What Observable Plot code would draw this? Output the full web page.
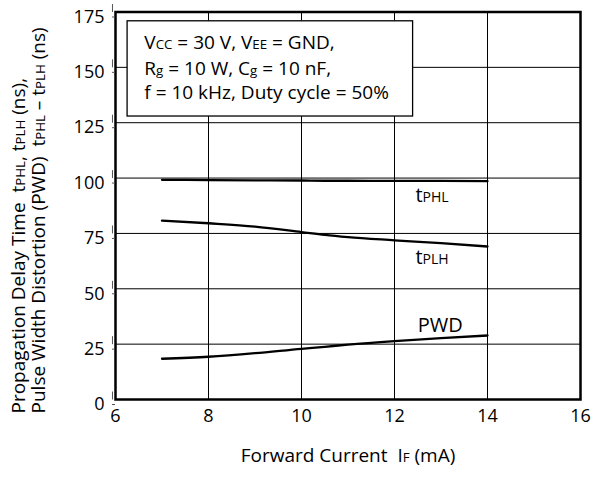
<!DOCTYPE html>
<html>
<head>
<meta charset="utf-8">
<script src="https://cdn.jsdelivr.net/npm/d3@7"></script>
<script src="https://cdn.jsdelivr.net/npm/@observablehq/plot@0.6"></script>
<style>
  html, body { margin: 0; padding: 0; background: white; }
</style>
</head>
<body>
<div id="chart"></div>
<script>
// Data
const current = [7, 8, 9, 10, 10.5, 11, 12, 13, 14];
const tPHL = [99.2, 99.1, 99.0, 98.9, 98.8, 98.8, 98.7, 98.7, 98.6];
const tPLH = [80.8, 79.6, 78.1, 75.6, 74.3, 73.3, 71.9, 70.6, 69.1];
const PWD  = [18.4, 19.3, 20.9, 22.9, 23.8, 24.8, 26.4, 27.7, 28.9];

const xTicks = [6, 8, 10, 12, 14, 16];
const yTicks = [0, 25, 50, 75, 100, 125, 150, 175];

const curveLabels = ["t{PHL}", "t{PLH}", "PWD"];
const curveLabelX = [12.45, 12.45, 12.5];
const curveLabelY = [92.1, 64.1, 33.4];

const boxLines = ["V{CC} = 30 V, V{EE} = GND,", "R{g} = 10 W, C{g} = 10 nF,", "f = 10 kHz, Duty cycle = 50%"];
const boxLineY = [161.0, 149.5, 138.4];
const boxLineX = 6.62;
const boxX = [6.26, 12.4];
const boxY = [127.8, 170.8];

const xLabel = "Forward Current  I{F} (mA)";
const yLabel1 = "Propagation Delay Time  t{PHL}, t{PLH} (ns),";
const yLabel2 = "Pulse Width Distortion (PWD)  t{PHL} – t{PLH} (ns)";

const series = [["tPHL", tPHL], ["tPLH", tPLH], ["PWD", PWD]];
const rows = series.flatMap(([name, vals]) => current.map((c, i) => ({series: name, x: c, v: vals[i]})));
const labelRows = curveLabels.map((t, i) => ({t, x: curveLabelX[i], y: curveLabelY[i]}));
const boxRows = boxLines.map((t, i) => ({t, y: boxLineY[i]}));

const chart = Plot.plot({
  width: 604,
  height: 478,
  marginLeft: 115,
  marginRight: 24,
  marginTop: 11.5,
  marginBottom: 79,
  style: {fontFamily: "'Open Sans', sans-serif", fontSize: "18px", color: "black", background: "white"},
  x: {domain: [6, 16]},
  y: {domain: [0, 175]},
  marks: [
    Plot.gridX(xTicks, {stroke: "black", strokeOpacity: 1, strokeWidth: 1}),
    Plot.gridY(yTicks, {stroke: "black", strokeOpacity: 1, strokeWidth: 1}),
    Plot.rect([0], {x1: () => boxX[0], x2: () => boxX[1], y1: () => boxY[0], y2: () => boxY[1], fill: "white", stroke: "black", strokeWidth: 1.3}),
    Plot.text(boxRows, {x: () => boxLineX, y: "y", text: "t", textAnchor: "start", fontSize: 19, fill: "black"}),
    Plot.line(rows, {x: "x", y: "v", z: "series", curve: "monotone-x", stroke: "black", strokeWidth: 2.3}),
    Plot.text(labelRows, {x: "x", y: "y", text: "t", textAnchor: "start", fontSize: 20, fill: "black"}),
    Plot.frame({stroke: "black", strokeWidth: 2.5}),
    Plot.axisX(xTicks, {tickSize: 0, tickPadding: 10, fontSize: 18, label: null, tickFormat: d => String(d)}),
    Plot.axisY(yTicks, {tickSize: 3, tickPadding: 8, fontSize: 18, label: null, stroke: "#555", strokeWidth: 1, textStroke: "none", dy: 5, tickFormat: d => String(d)}),
    Plot.link(yTicks, {x1: () => 5.935, x2: () => 5.935, y1: d => d, y2: d => d + 3.6, stroke: "#555", strokeWidth: 1}),
    Plot.text([xLabel], {frameAnchor: "bottom", dy: 62, fontSize: 19, fill: "black"}),
    Plot.text([yLabel1], {frameAnchor: "bottom-left", dx: -91, dy: 14, rotate: -90, textAnchor: "start", fontSize: 19, fill: "black"}),
    Plot.text([yLabel2], {frameAnchor: "bottom-left", dx: -71, dy: 14, rotate: -90, textAnchor: "start", fontSize: 19, fill: "black"})
  ]
});

// Turn {…} segments into smaller subscript-style tspans
d3.select(chart).selectAll("text").each(function() {
  const el = d3.select(this);
  if (this.querySelector("tspan")) return;
  const s = this.textContent;
  if (!s.includes("{")) return;
  el.text(null);
  const parts = s.split(/(\{[^}]*\})/);
  for (const p of parts) {
    if (!p) continue;
    if (p.startsWith("{")) {
      el.append("tspan").attr("font-size", "70%").text(p.slice(1, -1));
    } else {
      el.append("tspan").text(p);
    }
  }
});

document.getElementById("chart").appendChild(chart);
</script>
</body>
</html>
